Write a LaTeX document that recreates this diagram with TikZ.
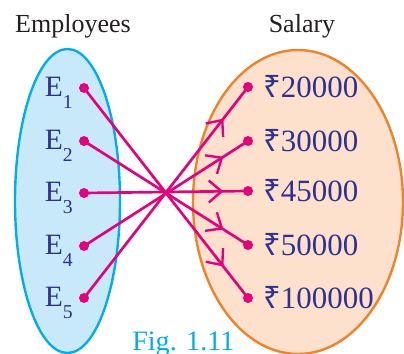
\documentclass[tikz,border=0pt]{standalone}
\usepackage{fontspec}
\setmainfont{Liberation Serif}
\newfontfamily\rupeefont{Noto Sans}
\usetikzlibrary{arrows.meta, decorations.markings}

\definecolor{labelblue}{RGB}{46,49,146}
\definecolor{mapline}{RGB}{230,0,126}
\definecolor{empfill}{RGB}{200,233,250}
\definecolor{empdraw}{RGB}{0,174,239}
\definecolor{salfill}{RGB}{253,225,204}
\definecolor{saldraw}{RGB}{240,130,40}
\definecolor{headgray}{RGB}{35,31,32}

\newcommand{\Esub}[1]{E\raisebox{-8pt}{\fontsize{14}{14}\selectfont #1}}
\newcommand{\Rs}{{\rupeefont ₹}}

\begin{document}
\begin{tikzpicture}[x=0.025cm, y=-0.025cm,
  head/.style={text=headgray, inner sep=0pt, anchor=base, font=\fontsize{18.5}{22}\selectfont},
  elabel/.style={text=labelblue, inner sep=0pt, anchor=base east, font=\fontsize{21}{24}\selectfont},
  slabel/.style={text=labelblue, inner sep=0pt, anchor=base west, font=\fontsize{22}{26}\selectfont},
  dot/.style={circle, fill=mapline, inner sep=0pt, minimum size=0.25cm},
  maps/.style={mapline, line width=1.9pt, postaction={decorate},
    decoration={markings, mark=at position 0.85 with
      {\arrow{Straight Barb[length=3.2mm, width=5.5mm, line width=1.7pt]}}}}]
  \clip (0,0) rectangle (404,354);
  % sets
  \draw[fill=empfill, draw=empdraw, line width=1.7pt] (67.5,201) ellipse [x radius=52.5, y radius=152];
  \draw[fill=salfill, draw=saldraw, line width=1.7pt] (298,202) ellipse [x radius=105, y radius=152];
  \node[head] (emphead) at (73,33) {Employees};
  \node[head] (salhead) at (302,33) {Salary};
  % domain
  \node[dot] (e1) at (84,88) {};
  \node[dot] (e2) at (84,141) {};
  \node[dot] (e3) at (84,193) {};
  \node[dot] (e4) at (84,246) {};
  \node[dot] (e5) at (84,298) {};
  \node[elabel] (le1) at (73,97) {\Esub{1}};
  \node[elabel] (le2) at (73,150) {\Esub{2}};
  \node[elabel] (le3) at (73,202) {\Esub{3}};
  \node[elabel] (le4) at (73,255) {\Esub{4}};
  \node[elabel] (le5) at (73,307) {\Esub{5}};
  % co-domain
  \node[dot] (s1) at (248,87) {};
  \node[dot] (s2) at (248,141) {};
  \node[dot] (s3) at (248,191) {};
  \node[dot] (s4) at (248,245) {};
  \node[dot] (s5) at (248,298) {};
  \node[slabel] (ls1) at (263,98) {\Rs20000};
  \node[slabel] (ls2) at (263,152) {\Rs30000};
  \node[slabel] (ls3) at (263,202) {\Rs45000};
  \node[slabel] (ls4) at (263,256) {\Rs50000};
  \node[slabel] (ls5) at (263,309) {\Rs100000};
  % mapping
  \draw[maps] (e1.center) -- (s5.center);
  \draw[maps] (e2.center) -- (s4.center);
  \draw[maps] (e3.center) -- (s3.center);
  \draw[maps] (e4.center) -- (s2.center);
  \draw[maps] (e5.center) -- (s1.center);
  \node[text=empdraw, inner sep=0pt, anchor=base west, font=\fontsize{20}{24}\selectfont] (fig) at (132,351) {Fig. 1.11};
\end{tikzpicture}
\end{document}
